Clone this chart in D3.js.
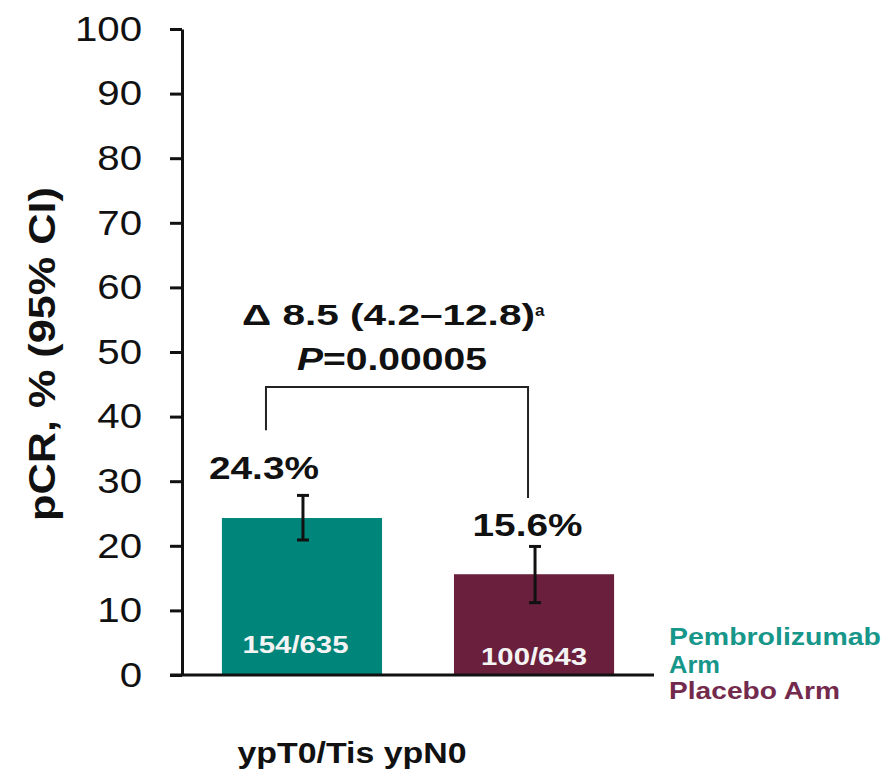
<!DOCTYPE html>
<html>
<head>
<meta charset="utf-8">
<script src="https://cdn.jsdelivr.net/npm/d3@7"></script>
<style>
  html, body { margin: 0; padding: 0; background: #ffffff; }
  svg { display: block; }
  text { font-family: "Liberation Sans", Arial, Helvetica, sans-serif; }
</style>
</head>
<body>
<svg id="chart" width="882" height="773"></svg>
<script>
// pCR by treatment arm, ypT0/Tis ypN0 definition
const category = "ypT0/Tis ypN0";
const arms = ["Pembrolizumab Arm", "Placebo Arm"];
const armLegend = [["Pembrolizumab", "Arm"], ["Placebo Arm"]];
const pcrValues = [24.3, 15.6];
const ciLower = [20.9, 11.2];
const ciUpper = [27.8, 19.9];
const responders = ["154/635", "100/643"];
const yTicks = [0, 10, 20, 30, 40, 50, 60, 70, 80, 90, 100];
const deltaText = "\u0394 8.5 (4.2\u201312.8)";
const deltaNote = "a";
const pValueText = ["P", "=0.00005"];

const armColors = ["#00857a", "#6a1f3c"];
const legendColors = ["#17968a", "#732a4c"];

const svg = d3.select("#chart");

const y = d3.scaleLinear().domain([0, 100]).range([675, 29]);
const x = d3.scaleBand().domain(arms).range([182, 654])
  .paddingInner(0.31).paddingOuter(0.172);
const cx = i => x(arms[i]) + x.bandwidth() / 2;

// Text helper: bold sans with a fixed advance length
function label(sel, str, o) {
  const t = sel.append("text")
    .attr("x", o.x).attr("y", o.y)
    .attr("text-anchor", o.anchor || "middle")
    .attr("font-size", o.size)
    .attr("font-weight", o.weight || "bold")
    .attr("font-style", o.italic ? "italic" : "normal")
    .attr("fill", o.fill || "#111")
    .text(str);
  if (o.len) t.attr("textLength", o.len).attr("lengthAdjust", "spacingAndGlyphs");
  return t;
}

// Bars
svg.append("g").selectAll("rect")
  .data(pcrValues)
  .join("rect")
  .attr("x", (d, i) => x(arms[i]))
  .attr("width", x.bandwidth())
  .attr("y", d => y(d))
  .attr("height", d => y(0) - y(d))
  .attr("fill", (d, i) => armColors[i]);

// Confidence intervals
const eb = svg.append("g").attr("stroke", "#111").attr("stroke-width", 3);
pcrValues.forEach((v, i) => {
  const xc = cx(i) + 1;
  eb.append("line").attr("x1", xc).attr("x2", xc)
    .attr("y1", y(ciLower[i])).attr("y2", y(ciUpper[i]));
  [ciLower[i], ciUpper[i]].forEach(c => {
    eb.append("line").attr("x1", xc - 6).attr("x2", xc + 6)
      .attr("y1", y(c)).attr("y2", y(c));
  });
});

// Axes
const yAxis = svg.append("g")
  .attr("transform", "translate(182,0)")
  .call(d3.axisLeft(y).tickValues(yTicks).tickSize(12).tickSizeOuter(0).tickPadding(28));
yAxis.selectAll("path, line").attr("stroke", "#111").attr("stroke-width", 3);
yAxis.selectAll("text")
  .attr("font-family", "'Liberation Sans', Arial, sans-serif")
  .attr("font-size", 35)
  .attr("fill", "#111")
  .attr("x", -40 / 1.15)
  .attr("transform", "scale(1.15,1)");

svg.append("line")
  .attr("x1", 170).attr("x2", x.range()[1])
  .attr("y1", y(0)).attr("y2", y(0))
  .attr("stroke", "#111").attr("stroke-width", 3);

// Axis title
label(svg, "pCR, % (95% CI)", { x: 0, y: 0, size: 36, len: 334 })
  .attr("transform", "translate(55,354) rotate(-90)");

// Value labels above bars
const valueDx = [-38, -6.5];
const valueDy = [-16, -10];
pcrValues.forEach((v, i) => {
  label(svg, v.toFixed(1) + "%", {
    x: cx(i) + valueDx[i], y: y(ciUpper[i]) + valueDy[i], size: 32, len: 110
  });
});

// Responder counts inside bars
const countDx = [-6.5, 0];
const countY = [653, 665];
responders.forEach((r, i) => {
  label(svg, r, { x: cx(i) + countDx[i], y: countY[i], size: 24, len: 106, fill: "#f4f4f4" });
});

// Comparison bracket
const bx0 = cx(0) - 36, bx1 = cx(1) - 6;
const bTop = y(44.6);
svg.append("path")
  .attr("d", `M${bx0},${y(37.9)}V${bTop}H${bx1}V${y(27.4)}`)
  .attr("fill", "none").attr("stroke", "#222").attr("stroke-width", 2);

label(svg, deltaText, { x: bx0 - 24, y: 325, size: 29, anchor: "start", len: 293 });
label(svg, deltaNote, { x: bx0 + 269, y: 316, size: 17, anchor: "start" });
const pv = svg.append("text")
  .attr("x", bx0 + 31).attr("y", 370)
  .attr("font-size", 31).attr("font-weight", "bold").attr("fill", "#111")
  .attr("textLength", 190).attr("lengthAdjust", "spacingAndGlyphs");
pv.append("tspan").attr("font-style", "italic").text(pValueText[0]);
pv.append("tspan").text(pValueText[1]);

// Category label
label(svg, category, { x: 352, y: 763, size: 29, len: 229 });

// Legend
const legendLines = [
  { t: armLegend[0][0], c: legendColors[0], y: 645, len: 212 },
  { t: armLegend[0][1], c: legendColors[0], y: 673, len: 51 },
  { t: armLegend[1][0], c: legendColors[1], y: 699, len: 171 }
];
legendLines.forEach(l => {
  label(svg, l.t, { x: 669, y: l.y, size: 24, anchor: "start", fill: l.c, len: l.len });
});
</script>
</body>
</html>
